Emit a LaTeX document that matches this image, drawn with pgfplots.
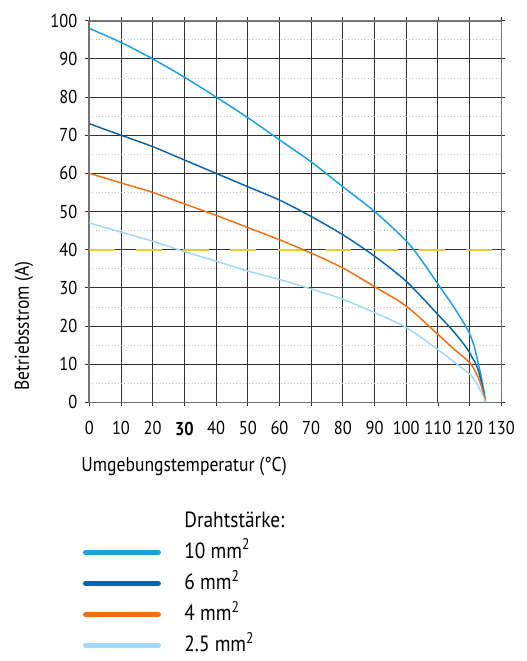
\documentclass[border=0pt]{standalone}
\usepackage{fontspec}
\setmainfont{PT Sans}[FakeStretch=0.88]
\usepackage{pgfplots}
\pgfplotsset{compat=1.18}
\definecolor{cA}{RGB}{27,160,225}
\definecolor{cB}{RGB}{10,100,170}
\definecolor{cC}{RGB}{238,112,22}
\definecolor{cD}{RGB}{160,216,245}
\definecolor{yellowline}{RGB}{225,205,45}
\begin{document}
\begin{tikzpicture}
\path[use as bounding box] (-66.975pt,-194.025pt) rectangle (327.525pt,301.725pt);
\begin{axis}[
  scale only axis, width=309pt, height=286.2pt,
  xmin=0, xmax=130, ymin=0, ymax=100,
  xtick={0,10,...,130},
  xticklabels={0,10,20,\textbf{30},40,50,60,70,80,90,100,110,120,130},
  ytick={0,10,...,100},
  minor y tick num=1,
  grid=both,
  major grid style={black!80, line width=0.7pt},
  minor grid style={gray!45, dotted, line width=0.6pt},
  minor tick length=0pt,
  tick align=outside, major tick length=3pt,
  tick style={black!80, line width=0.6pt},
  axis line style={black!55, line width=1.2pt},
  /pgf/number format/assume math mode=true,
  tick label style={font=\fontsize{14}{16}\selectfont},
  xticklabel style={yshift=-8pt},
  yticklabel style={xshift=-2.5pt},
  label style={font=\fontsize{15}{17}\selectfont},
  xlabel={Umgebungstemperatur (°C)},
  xlabel style={at={(rel axis cs:0.23,0)}, anchor=north, yshift=-38pt},
  ylabel={Betriebsstrom (A)},
  ylabel style={at={(rel axis cs:0,0.2)}, anchor=center, rotate=0, yshift=49pt},
  legend image code/.code={\path (0pt,0pt) -- (58.5pt,0pt); \draw[#1, line width=3.75pt, line cap=round] (1.9pt,0pt) -- (56.6pt,0pt);},
  legend cell align=left,
  legend style={at={(rel axis cs:0,0)}, anchor=north west, xshift=-5.5pt, yshift=-81pt,
    draw=none, fill=none, inner sep=0pt, row sep=7.3pt, column sep=17pt,
    font=\fontsize{16.5}{19}\selectfont,
    nodes={inner sep=0pt, text height=12.5pt, text depth=3.5pt}},
]
\addlegendimage{empty legend}
\addlegendentry{Drahtstärke:}
\addplot[draw=yellowline, line width=1.3pt, dash pattern=on 19.5pt off 15.8pt, forget plot] coordinates {(0,40) (130.5,40)};
\addplot[cA, line width=1.1pt, smooth, tension=0.5] coordinates {(0,98) (10,94.3) (20,90) (30,85.2) (40,80) (50,74.6) (60,68.8) (70,63) (80,56.5) (90,50) (100,42.3) (105,37) (110,31) (115,25) (118,21) (120,18) (121.5,14.5) (122.5,11) (123.6,7) (124.5,3) (125,0)};
\addlegendentry{10 mm\textsuperscript{2}}
\addplot[cB, line width=1.1pt, smooth, tension=0.5] coordinates {(0,73) (10,70) (20,67) (30,63.5) (40,60) (50,56.5) (60,53) (70,48.7) (80,43.9) (90,38.3) (100,31.7) (110,23) (115,18.5) (119,14.3) (121,11.5) (122.5,9) (123.8,5) (124.6,2) (125,0)};
\addlegendentry{6 mm\textsuperscript{2}}
\addplot[cC, line width=1.1pt, smooth, tension=0.5] coordinates {(0,60) (10,57.5) (20,55) (30,52) (40,49) (50,45.8) (60,42.6) (70,39.1) (80,35.2) (90,30.3) (100,25.2) (110,17.8) (115,14) (119,11.2) (121,9.3) (122.6,6.7) (123.8,4) (124.6,1.5) (125,0)};
\addlegendentry{4 mm\textsuperscript{2}}
\addplot[cD, line width=1.1pt, smooth, tension=0.5] coordinates {(0,47) (10,44.6) (20,42.2) (30,39.5) (40,37) (50,34.4) (60,32.2) (70,29.7) (80,27) (90,23.5) (100,19.6) (110,13.8) (116,10) (120,7.4) (122.2,5) (123.8,2.5) (125,0)};
\addlegendentry{2.5 mm\textsuperscript{2}}
\end{axis}
\end{tikzpicture}
\end{document}
